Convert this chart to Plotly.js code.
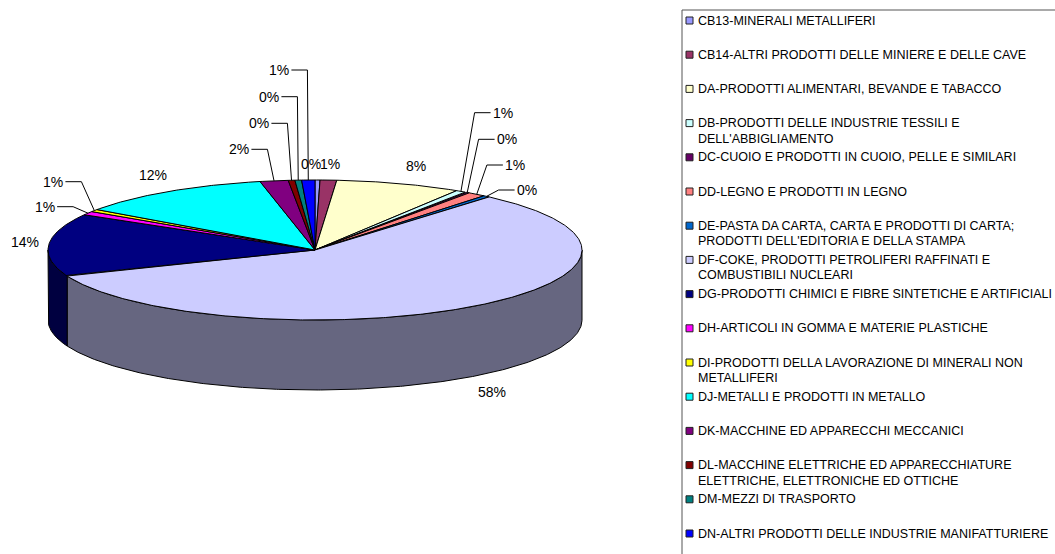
<!DOCTYPE html>
<html><head><meta charset="utf-8">
<script src="https://cdn.plot.ly/plotly-3.0.1.min.js"></script>
<style>html,body{margin:0;padding:0;background:#fff}#chart{width:1055px;height:554px}</style>
</head><body><div id="chart"></div>
<script>
// ---- data ----
const categories = ["CB13","CB14","DA","DB","DC","DD","DE","DF","DG","DH","DI","DJ","DK","DL","DM","DN"];
const legendLabels = [
  "CB13-MINERALI METALLIFERI",
  "CB14-ALTRI PRODOTTI DELLE MINIERE E DELLE CAVE",
  "DA-PRODOTTI ALIMENTARI, BEVANDE E TABACCO",
  "DB-PRODOTTI DELLE INDUSTRIE TESSILI E<br>DELL'ABBIGLIAMENTO",
  "DC-CUOIO E PRODOTTI IN CUOIO, PELLE E SIMILARI",
  "DD-LEGNO E PRODOTTI IN LEGNO",
  "DE-PASTA DA CARTA, CARTA E PRODOTTI DI CARTA;<br>PRODOTTI DELL'EDITORIA E DELLA STAMPA",
  "DF-COKE, PRODOTTI PETROLIFERI RAFFINATI E<br>COMBUSTIBILI NUCLEARI",
  "DG-PRODOTTI CHIMICI E FIBRE SINTETICHE E ARTIFICIALI",
  "DH-ARTICOLI IN GOMMA E MATERIE PLASTICHE",
  "DI-PRODOTTI DELLA LAVORAZIONE DI MINERALI NON<br>METALLIFERI",
  "DJ-METALLI E PRODOTTI IN METALLO",
  "DK-MACCHINE ED APPARECCHI MECCANICI",
  "DL-MACCHINE ELETTRICHE ED APPARECCHIATURE<br>ELETTRICHE, ELETTRONICHE ED OTTICHE",
  "DM-MEZZI DI TRASPORTO",
  "DN-ALTRI PRODOTTI DELLE INDUSTRIE MANIFATTURIERE"
];
const values = [0.3, 1.0, 7.6, 0.6, 0.3, 1.1, 0.4, 57.6, 14.45, 0.85, 0.55, 11.9, 1.7, 0.4, 0.4, 0.8];
const colors = ["#9999FF","#993366","#FFFFCC","#CCFFFF","#660066","#FF8080","#0066CC","#CCCCFF",
                "#000080","#FF00FF","#FFFF00","#00FFFF","#800080","#800000","#008080","#0000FF"];

// ---- layout (positions in page pixels) ----
const PIE = {cx:315, cy:250, a:267, b:70, depth:70};
const labelPos = [[310.7,164.3],[330,164.3],[416,166],[502.7,112.7],[506.7,139.3],[515,165],[526.7,190],
                  [491.7,391.7],[25,241.7],[45,206.7],[53.3,181.7],[153.3,175],[239.3,149.3],[259.3,123.3],[269.3,96.7],[279.3,70]];
const leaderSide = [0,0,0,1,1,1,1,0,0,-1,-1,0,-1,-1,-1,-1];
const LABEL_FONT = 14, LEGEND_FONT = 12.5;
const LEG = {box:682, top:10, sq:686, text:696, first:20.5, step:34.2, line:15.5};

function darken(hex, f){
  const n=parseInt(hex.slice(1),16);
  const r=Math.round(((n>>16)&255)*f), g=Math.round(((n>>8)&255)*f), b=Math.round((n&255)*f);
  return "rgb("+r+","+g+","+b+")";
}
function rx(t){return PIE.cx + PIE.a*Math.sin(t);}
function ry(t){return PIE.cy - PIE.b*Math.cos(t);}
function arc(s,e,dy){
  const n=Math.max(2, Math.ceil((e-s)/(Math.PI/360))+1);
  const xs=[],ys=[];
  for(let i=0;i<n;i++){const t=s+(e-s)*i/(n-1); xs.push(rx(t)); ys.push(ry(t)+dy);}
  return [xs,ys];
}

const total = values.reduce((p,c)=>p+c,0);
const starts=[], ends=[];
let cum=0;
values.forEach(v=>{starts.push(cum/total*2*Math.PI); cum+=v; ends.push(cum/total*2*Math.PI);});

const traces=[];
// side walls (front half only)
values.forEach((v,i)=>{
  const s=Math.max(starts[i], Math.PI/2), e=Math.min(ends[i], 3*Math.PI/2);
  if(e<=s) return;
  const [tx,ty]=arc(s,e,0); const [bx,by]=arc(s,e,PIE.depth);
  const xs=tx.concat(bx.slice().reverse()); const ys=ty.concat(by.slice().reverse());
  xs.push(xs[0]); ys.push(ys[0]);
  traces.push({type:"scatter",mode:"lines",x:xs,y:ys,fill:"toself",fillcolor:darken(colors[i],0.5),
    line:{color:"#000",width:1},hoverinfo:"skip",showlegend:false});
});
// top faces
values.forEach((v,i)=>{
  const [tx,ty]=arc(starts[i],ends[i],0);
  const xs=[PIE.cx].concat(tx,[PIE.cx]); const ys=[PIE.cy].concat(ty,[PIE.cy]);
  traces.push({type:"scatter",mode:"lines",x:xs,y:ys,fill:"toself",fillcolor:colors[i],
    line:{color:"#000",width:1},hoverinfo:"skip",showlegend:false,name:categories[i]});
});
// leader lines
const lx=[], ly=[];
const pctText = values.map(v=>Math.round(v/total*100)+"%");
values.forEach((v,i)=>{
  const side=leaderSide[i]; if(!side) return;
  const mid=(starts[i]+ends[i])/2;
  const half = LABEL_FONT*(0.556*(pctText[i].length-1)+0.889)/2;
  const [px,py]=labelPos[i];
  const sx = px - side*(half+2), ex = sx - side*16;
  lx.push(sx,ex,rx(mid),null); ly.push(py,py,ry(mid),null);
});
traces.push({type:"scatter",mode:"lines",x:lx,y:ly,line:{color:"#000",width:1},hoverinfo:"skip",showlegend:false});

const annotations=[], shapes=[];
values.forEach((v,i)=>{
  annotations.push({x:labelPos[i][0],y:labelPos[i][1],xref:"x",yref:"y",text:pctText[i],showarrow:false,
    xanchor:"center",yanchor:"middle",font:{family:"Liberation Sans, Arial, sans-serif",size:LABEL_FONT,color:"#000"}});
});
// legend
shapes.push({type:"rect",xref:"x",yref:"y",x0:LEG.box,x1:1060,y0:LEG.top,y1:560,line:{color:"#555",width:1},fillcolor:"rgba(0,0,0,0)"});
legendLabels.forEach((lab,i)=>{
  const yc = LEG.first + LEG.step*i;
  shapes.push({type:"rect",xref:"x",yref:"y",x0:LEG.sq,x1:LEG.sq+7,y0:yc-3.5,y1:yc+3.5,fillcolor:colors[i],line:{color:"#222",width:1}});
  lab.split("<br>").forEach((ln,k)=>{
    annotations.push({x:LEG.text,y:yc+k*LEG.line,xref:"x",yref:"y",text:ln,showarrow:false,xanchor:"left",yanchor:"middle",
      font:{family:"Liberation Sans, Arial, sans-serif",size:LEGEND_FONT,color:"#000"}});
  });
});

const layout={width:1055,height:554,margin:{l:0,r:0,t:0,b:0,pad:0},paper_bgcolor:"#fff",plot_bgcolor:"#fff",
  xaxis:{range:[0,1055],visible:false,fixedrange:true},yaxis:{range:[554,0],visible:false,fixedrange:true},
  showlegend:false,annotations:annotations,shapes:shapes};
Plotly.newPlot("chart",traces,layout,{displayModeBar:false,staticPlot:true});
</script></body></html>
